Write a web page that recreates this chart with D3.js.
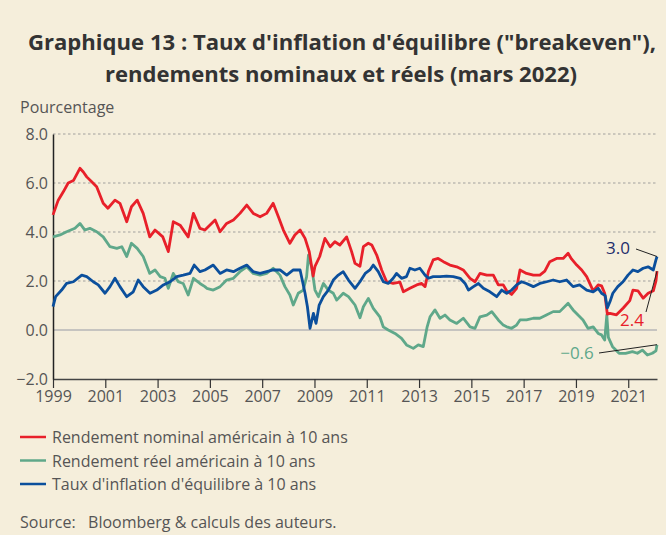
<!DOCTYPE html>
<html>
<head>
<meta charset="utf-8">
<script src="https://cdn.jsdelivr.net/npm/d3@7"></script>
<style>
  body { margin: 0; background: #f5eedb; }
  svg { display: block; font-family: "Open Sans", "Noto Sans", sans-serif; }
</style>
</head>
<body>
<div id="chart"></div>
<script>
var W = 666, H = 535;
var bg = "#f5eedb";
var colNominal = "#e8202a";
var colReal = "#5fa88a";
var colBreakeven = "#0b4f9c";
var textCol = "#555";
var fs = 16;

// data: [decimal year, percent]
var nominal = [[1999.0,4.7],[1999.2,5.3],[1999.4,5.65],[1999.58,6.0],[1999.78,6.1],[2000.03,6.6],[2000.16,6.45],[2000.29,6.25],[2000.48,6.05],[2000.67,5.85],[2000.92,5.17],[2001.1,4.97],[2001.37,5.3],[2001.56,5.17],[2001.82,4.42],[2002.0,5.03],[2002.22,5.3],[2002.45,4.76],[2002.7,3.8],[2002.9,4.08],[2003.2,3.8],[2003.41,3.2],[2003.6,4.42],[2003.86,4.28],[2004.17,3.8],[2004.37,4.76],[2004.62,4.15],[2004.81,4.08],[2005.2,4.49],[2005.39,4.01],[2005.64,4.35],[2005.9,4.49],[2006.15,4.76],[2006.41,5.1],[2006.66,4.76],[2006.92,4.62],[2007.17,4.76],[2007.42,5.17],[2007.62,4.62],[2007.81,4.08],[2008.06,3.54],[2008.25,3.88],[2008.45,4.08],[2008.64,3.74],[2008.8,3.2],[2008.95,2.2],[2009.02,2.6],[2009.2,3.0],[2009.4,3.74],[2009.6,3.4],[2009.78,3.6],[2009.97,3.47],[2010.23,3.8],[2010.42,3.2],[2010.55,2.72],[2010.74,2.6],[2010.87,3.4],[2011.06,3.54],[2011.19,3.47],[2011.38,3.06],[2011.57,2.45],[2011.76,1.97],[2012.01,1.9],[2012.27,1.95],[2012.4,1.56],[2012.65,1.7],[2012.91,1.84],[2013.1,1.9],[2013.23,1.77],[2013.36,2.4],[2013.54,2.86],[2013.73,2.92],[2013.93,2.79],[2014.18,2.65],[2014.44,2.58],[2014.69,2.45],[2014.95,2.11],[2015.14,1.97],[2015.33,2.31],[2015.59,2.24],[2015.84,2.24],[2016.03,1.84],[2016.22,1.84],[2016.35,1.6],[2016.54,1.45],[2016.73,1.7],[2016.86,2.45],[2017.11,2.31],[2017.37,2.24],[2017.62,2.24],[2017.81,2.4],[2018.0,2.79],[2018.26,2.92],[2018.51,2.92],[2018.7,3.13],[2018.83,2.9],[2019.03,2.65],[2019.22,2.45],[2019.41,2.18],[2019.66,1.6],[2019.85,1.84],[2019.98,1.8],[2020.1,1.5],[2020.2,0.65],[2020.3,0.68],[2020.55,0.62],[2020.81,0.9],[2021.06,1.2],[2021.18,1.63],[2021.37,1.6],[2021.57,1.3],[2021.76,1.5],[2021.96,1.6],[2022.06,2.0],[2022.1,2.4]];

var real = [[1999.0,3.8],[1999.27,3.88],[1999.52,4.01],[1999.84,4.15],[2000.03,4.35],[2000.22,4.08],[2000.41,4.15],[2000.67,4.01],[2000.92,3.8],[2001.18,3.4],[2001.44,3.33],[2001.63,3.4],[2001.82,3.0],[2002.0,3.54],[2002.22,3.33],[2002.45,3.0],[2002.7,2.31],[2002.9,2.45],[2003.1,2.18],[2003.28,2.11],[2003.41,1.7],[2003.6,2.31],[2003.79,1.97],[2003.98,1.9],[2004.17,1.43],[2004.37,2.11],[2004.62,1.9],[2004.81,1.77],[2004.88,1.7],[2005.13,1.63],[2005.39,1.77],[2005.64,2.04],[2005.9,2.11],[2006.15,2.38],[2006.41,2.58],[2006.66,2.31],[2006.92,2.24],[2007.17,2.31],[2007.42,2.52],[2007.68,2.24],[2007.87,1.77],[2008.06,1.43],[2008.19,1.02],[2008.38,1.5],[2008.57,1.63],[2008.7,2.18],[2008.77,3.06],[2008.9,2.52],[2009.02,1.63],[2009.15,1.36],[2009.34,1.9],[2009.53,1.63],[2009.72,1.5],[2009.85,1.22],[2010.1,1.5],[2010.3,1.36],[2010.55,1.02],[2010.74,0.5],[2010.87,0.95],[2011.06,1.29],[2011.25,0.88],[2011.5,0.54],[2011.63,0.13],[2011.82,0.0],[2012.08,-0.14],[2012.33,-0.34],[2012.52,-0.61],[2012.78,-0.75],[2012.97,-0.61],[2013.16,-0.68],[2013.31,0.13],[2013.42,0.54],[2013.61,0.82],[2013.8,0.48],[2013.99,0.61],[2014.18,0.41],[2014.44,0.27],[2014.69,0.48],[2014.95,0.13],[2015.14,0.07],[2015.33,0.54],[2015.59,0.61],[2015.78,0.75],[2016.03,0.41],[2016.22,0.2],[2016.35,0.13],[2016.54,0.07],[2016.73,0.2],[2016.86,0.41],[2017.11,0.41],[2017.37,0.48],[2017.62,0.48],[2017.87,0.61],[2018.13,0.75],[2018.38,0.75],[2018.7,1.09],[2018.89,0.82],[2019.08,0.61],[2019.27,0.41],[2019.46,0.07],[2019.66,0.13],[2019.85,-0.14],[2019.98,-0.2],[2020.1,-0.41],[2020.18,0.61],[2020.24,-0.3],[2020.4,-0.68],[2020.65,-0.95],[2020.9,-0.95],[2021.16,-0.88],[2021.35,-0.95],[2021.54,-0.82],[2021.73,-1.02],[2021.92,-0.95],[2022.06,-0.85],[2022.1,-0.6]];

var breakeven = [[1999.0,0.95],[1999.1,1.36],[1999.33,1.63],[1999.52,1.9],[1999.78,1.97],[2000.1,2.24],[2000.29,2.18],[2000.54,1.97],[2000.73,1.84],[2000.99,1.5],[2001.18,1.77],[2001.37,2.11],[2001.56,1.77],[2001.82,1.36],[2002.07,1.56],[2002.26,2.04],[2002.45,1.77],[2002.71,1.5],[2002.97,1.63],[2003.22,1.84],[2003.48,1.97],[2003.73,2.18],[2003.98,2.24],[2004.24,2.31],[2004.4,2.65],[2004.62,2.38],[2004.81,2.45],[2005.13,2.65],[2005.39,2.31],[2005.64,2.45],[2005.9,2.38],[2006.15,2.52],[2006.41,2.65],[2006.66,2.38],[2006.92,2.31],[2007.17,2.38],[2007.42,2.45],[2007.68,2.45],[2007.94,2.24],[2008.19,2.45],[2008.45,2.45],[2008.64,1.5],[2008.73,0.95],[2008.83,0.07],[2008.96,0.68],[2009.06,0.27],[2009.18,1.02],[2009.34,1.36],[2009.53,1.63],[2009.72,2.04],[2009.91,2.24],[2010.1,2.38],[2010.3,2.04],[2010.55,1.7],[2010.74,1.97],[2010.94,2.31],[2011.12,2.45],[2011.25,2.65],[2011.44,2.38],[2011.63,1.97],[2011.82,1.9],[2012.01,2.11],[2012.14,2.31],[2012.33,2.11],[2012.52,2.18],[2012.65,2.52],[2012.84,2.45],[2013.03,2.52],[2013.23,2.24],[2013.36,2.11],[2013.54,2.18],[2013.8,2.18],[2014.05,2.2],[2014.31,2.18],[2014.57,2.11],[2014.76,1.9],[2014.89,1.63],[2015.08,1.77],[2015.27,1.9],[2015.46,1.7],[2015.71,1.56],[2015.97,1.36],[2016.16,1.63],[2016.35,1.5],[2016.54,1.63],[2016.73,1.84],[2016.92,1.97],[2017.11,1.9],[2017.37,1.77],[2017.62,1.9],[2017.88,1.97],[2018.13,2.04],[2018.38,1.97],[2018.64,2.04],[2018.89,1.77],[2019.14,1.84],[2019.41,1.63],[2019.66,1.56],[2019.85,1.7],[2019.98,1.5],[2020.12,1.4],[2020.2,0.9],[2020.3,1.15],[2020.41,1.5],[2020.6,1.77],[2020.8,1.97],[2020.99,2.24],[2021.18,2.45],[2021.37,2.38],[2021.57,2.52],[2021.76,2.58],[2021.96,2.45],[2022.06,2.86],[2022.1,3.0]];

var yearTicks = [1999,2001,2003,2005,2007,2009,2011,2013,2015,2017,2019,2021];
var valueTicks = [-2,0,2,4,6,8];
var legendLabels = ["Rendement nominal américain à 10 ans", "Rendement réel américain à 10 ans", "Taux d'inflation d'équilibre à 10 ans"];
var endLabels = ["3.0", "2.4", "\u22120.6"];

var svg = d3.select("#chart").append("svg")
	.attr("width", W)
	.attr("height", H);

svg.append("rect").attr("width", W).attr("height", H).attr("fill", bg);

// title
svg.append("text")
	.attr("x", 342).attr("y", 50)
	.attr("text-anchor", "middle")
	.attr("font-size", 21).attr("font-weight", "bold")
	.attr("fill", "#333")
	.attr("textLength", 628).attr("lengthAdjust", "spacingAndGlyphs")
	.text("Graphique 13 : Taux d'inflation d'équilibre (\"breakeven\"),");
svg.append("text")
	.attr("x", 341).attr("y", 82)
	.attr("text-anchor", "middle")
	.attr("font-size", 21).attr("font-weight", "bold")
	.attr("fill", "#333")
	.attr("textLength", 472).attr("lengthAdjust", "spacingAndGlyphs")
	.text("rendements nominaux et réels (mars 2022)");

svg.append("text")
	.attr("x", 20).attr("y", 113)
	.attr("font-size", fs).attr("fill", textCol)
	.text("Pourcentage");

var x = d3.scaleLinear().domain([1999, 2022.1]).range([53, 657]);
var y = d3.scaleLinear().domain([-2, 8]).range([379, 134]);

// gridlines
svg.append("g").selectAll("line")
	.data([2, 4, 6, 8])
	.enter().append("line")
	.attr("x1", x(1999)).attr("x2", x(2022.1))
	.attr("y1", function(d) { return y(d); })
	.attr("y2", function(d) { return y(d); })
	.attr("stroke", "#bdbab2")
	.attr("stroke-width", 1.3)
	.attr("stroke-dasharray", "2.5,2.5");

svg.append("line")
	.attr("x1", x(1999)).attr("x2", x(2022.1))
	.attr("y1", y(0)).attr("y2", y(0))
	.attr("stroke", "#c6c4c0").attr("stroke-width", 2);

// axes
var xAxis = svg.append("g")
	.attr("transform", "translate(0," + y(-2) + ")")
	.call(d3.axisBottom(x).tickValues(yearTicks).tickFormat(d3.format("d")).tickSize(9).tickSizeOuter(0));
xAxis.select(".domain").attr("stroke", "#444").attr("stroke-width", 1.5);
xAxis.selectAll(".tick line").attr("stroke", "#333").attr("stroke-width", 1.2);
xAxis.selectAll(".tick text")
	.attr("font-size", fs).attr("fill", textCol)
	.attr("font-family", "\"Open Sans\", sans-serif")
	.attr("y", 12);

var yAxis = svg.append("g")
	.attr("transform", "translate(" + x(1999) + ",0)")
	.call(d3.axisLeft(y).tickValues(valueTicks).tickFormat(function(d) { return d3.format(".1f")(d).replace("-", "\u2212"); }).tickSize(0).tickSizeOuter(0));
yAxis.select(".domain").attr("stroke", "#222").attr("stroke-width", 1.5);
yAxis.selectAll(".tick text")
	.attr("font-size", fs).attr("fill", textCol)
	.attr("font-family", "\"Open Sans\", sans-serif")
	.attr("x", -5);

// series
var line = d3.line()
	.x(function(d) { return x(d[0]); })
	.y(function(d) { return y(d[1]); });

var series = [
	{ data: real, color: colReal },
	{ data: nominal, color: colNominal },
	{ data: breakeven, color: colBreakeven }
];

series.forEach(function(s) {
	svg.append("path")
		.datum(s.data)
		.attr("d", line)
		.attr("fill", "none")
		.attr("stroke", s.color)
		.attr("stroke-width", 2.8)
		.attr("stroke-linejoin", "round");
});

// end labels with connectors
var lastB = breakeven[breakeven.length - 1];
var lastN = nominal[nominal.length - 1];
var lastR = real[real.length - 1];
var ends = [
	{ text: endLabels[0], color: "#1d2c6b", lx: 618, ly: 254, x1: 636, y1: 249, pt: lastB },
	{ text: endLabels[1], color: colNominal, lx: 632, ly: 326, x1: 646, y1: 312, pt: lastN },
	{ text: endLabels[2], color: colReal, lx: 577, ly: 359, x1: 599, y1: 353, pt: lastR }
];
ends.forEach(function(e) {
	svg.append("line")
		.attr("x1", e.x1).attr("y1", e.y1)
		.attr("x2", x(e.pt[0])).attr("y2", y(e.pt[1]))
		.attr("stroke", "#222").attr("stroke-width", 1);
	svg.append("text")
		.attr("x", e.lx).attr("y", e.ly)
		.attr("text-anchor", "middle")
		.attr("font-size", 17)
		.attr("fill", e.color)
		.text(e.text);
});

// legend
var legendColors = [colNominal, colReal, colBreakeven];
var legend = svg.append("g").selectAll("g")
	.data(legendLabels)
	.enter().append("g")
	.attr("transform", function(d, i) { return "translate(20," + (437 + i * 23.5) + ")"; });
legend.append("line")
	.attr("x1", 0).attr("x2", 26)
	.attr("stroke", function(d, i) { return legendColors[i]; })
	.attr("stroke-width", 2.5);
legend.append("text")
	.attr("x", 32).attr("y", 6)
	.attr("font-size", fs).attr("fill", textCol)
	.text(function(d) { return d; });

svg.append("text")
	.attr("x", 20).attr("y", 528)
	.attr("font-size", fs).attr("fill", textCol)
	.attr("xml:space", "preserve")
	.text("Source:   Bloomberg & calculs des auteurs.");
</script>
</body>
</html>
